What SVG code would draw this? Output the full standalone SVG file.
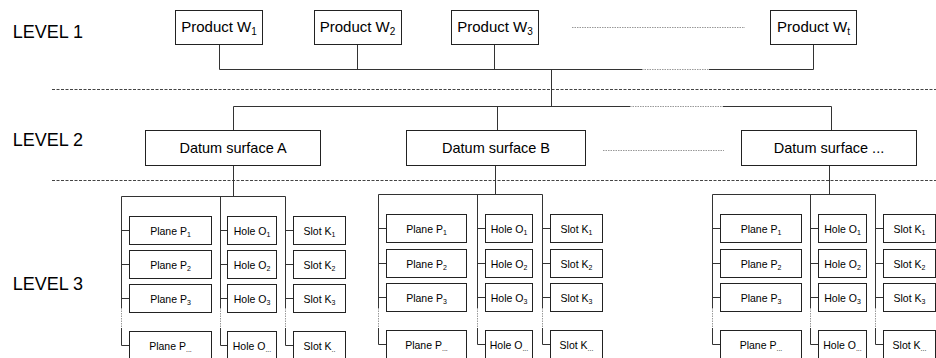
<svg xmlns="http://www.w3.org/2000/svg" width="936" height="358" viewBox="0 0 936 358">
<style>
text{font-family:"Liberation Sans",Arial,sans-serif;fill:#000}
.lvl{font-size:18px}
.l1{font-size:15px;text-anchor:middle}
.l2{font-size:14.5px;text-anchor:middle}
.l3{font-size:10.5px;text-anchor:middle}
.sub1{font-size:10px}
.sub3{font-size:7px}
rect{fill:#fff;stroke:#222;stroke-width:1}
.ln{fill:none;stroke:#333;stroke-width:1}
.dot{fill:none;stroke:#999;stroke-width:1;stroke-dasharray:1.5,1}
.sep{fill:none;stroke:#444;stroke-width:1;stroke-dasharray:3,1.5}
</style>
<rect x="0" y="0" width="936" height="358" style="stroke:none;fill:#fff"/>
<g id="levels">
<text class="lvl" x="12.7" y="38">LEVEL 1</text>
<text class="lvl" x="12.7" y="146">LEVEL 2</text>
<text class="lvl" x="12.7" y="290">LEVEL 3</text>
<path class="sep" d="M52,89.5H936M52,180.5H936"/>
</g>
<g id="connectors">
<path class="ln" d="M219.5,44.5V69.5M357.5,44.5V69.5M494.5,44.5V69.5M813.5,44.5V69.5M219.5,69.5H642M709,69.5H813.5M551.5,69.5V106.5"/>
<path class="dot" d="M642,69.5H709M572,27.5H745"/>
<path class="ln" d="M233.5,106.5H630M723,106.5H831.5M233.5,106.5V130.5M497.5,106.5V130.5M831.5,106.5V130.5"/>
<path class="dot" d="M630,106.5H723M603,150.5H724"/>
<path class="ln" d="M233.5,165.5V196.5M495.5,165.5V194.5M829.5,165.5V194.5"/>
<!-- column A -->
<path class="ln" d="M121.5,196.5H285.5M121.5,196.5V308M121.5,328V345.5H129.5M121.5,230.5H129.5M121.5,264.5H129.5M121.5,298.5H129.5"/>
<path class="ln" d="M220.5,196.5V308M220.5,328V345.5H227.5M220.5,230.5H227.5M220.5,264.5H227.5M220.5,298.5H227.5"/>
<path class="ln" d="M285.5,196.5V308M285.5,328V345.5H293.5M285.5,230.5H293.5M285.5,264.5H293.5M285.5,298.5H293.5"/>
<path class="dot" d="M121.5,308V328M220.5,308V328M285.5,308V328"/>
<!-- column B -->
<path class="ln" d="M378.5,194.5H542.5M378.5,194.5V308M378.5,328V344.5H386.5M378.5,228.5H386.5M378.5,263.5H386.5M378.5,297.5H386.5"/>
<path class="ln" d="M477.5,194.5V308M477.5,328V344.5H485.5M477.5,228.5H485.5M477.5,263.5H485.5M477.5,297.5H485.5"/>
<path class="ln" d="M542.5,194.5V308M542.5,328V344.5H550.5M542.5,228.5H550.5M542.5,263.5H550.5M542.5,297.5H550.5"/>
<path class="dot" d="M378.5,308V328M477.5,308V328M542.5,308V328"/>
<!-- column C -->
<path class="ln" d="M712.5,194.5H875.5M712.5,194.5V308M712.5,328V344.5H720.5M712.5,228.5H720.5M712.5,263.5H720.5M712.5,297.5H720.5"/>
<path class="ln" d="M810.5,194.5V308M810.5,328V344.5H818.5M810.5,228.5H818.5M810.5,263.5H818.5M810.5,297.5H818.5"/>
<path class="ln" d="M875.5,194.5V308M875.5,328V344.5H883.5M875.5,228.5H883.5M875.5,263.5H883.5M875.5,297.5H883.5"/>
<path class="dot" d="M712.5,308V328M810.5,308V328M875.5,308V328"/>
</g>
<g id="productW1"><rect x="175.5" y="10.5" width="87" height="34"/><text class="l1" x="219" y="32">Product W<tspan class="sub1" dy="3">1</tspan></text></g>
<g id="productW2"><rect x="314.5" y="10.5" width="87" height="34"/><text class="l1" x="357.5" y="32">Product W<tspan class="sub1" dy="3">2</tspan></text></g>
<g id="productW3"><rect x="451.5" y="10.5" width="87" height="34"/><text class="l1" x="495" y="32">Product W<tspan class="sub1" dy="3">3</tspan></text></g>
<g id="productWt"><rect x="770.5" y="10.5" width="86" height="34"/><text class="l1" x="813.5" y="32">Product W<tspan class="sub1" dy="3">t</tspan></text></g>
<g id="datumA"><rect x="145.5" y="130.5" width="175" height="35"/><text class="l2" x="233" y="153">Datum surface A</text></g>
<g id="datumB"><rect x="406.5" y="130.5" width="179" height="35"/><text class="l2" x="496" y="153">Datum surface B</text></g>
<g id="datumN"><rect x="741.5" y="130.5" width="175" height="35"/><text class="l2" x="829" y="153">Datum surface ...</text></g>
<!-- column A nodes -->
<g id="A_P1"><rect x="129.5" y="216.5" width="82" height="28"/><text class="l3" x="170.5" y="234.5">Plane P<tspan class="sub3" dy="2">1</tspan></text></g>
<g id="A_P2"><rect x="129.5" y="250.5" width="82" height="28"/><text class="l3" x="170.5" y="268.5">Plane P<tspan class="sub3" dy="2">2</tspan></text></g>
<g id="A_P3"><rect x="129.5" y="284.5" width="82" height="28"/><text class="l3" x="170.5" y="302.5">Plane P<tspan class="sub3" dy="2">3</tspan></text></g>
<g id="A_Pn"><rect x="129.5" y="331.5" width="82" height="28"/><text class="l3" x="170.5" y="349.5">Plane P<tspan class="sub3" dy="2">...</tspan></text></g>
<g id="A_O1"><rect x="227.5" y="216.5" width="49" height="28"/><text class="l3" x="252" y="234.5">Hole O<tspan class="sub3" dy="2">1</tspan></text></g>
<g id="A_O2"><rect x="227.5" y="250.5" width="49" height="28"/><text class="l3" x="252" y="268.5">Hole O<tspan class="sub3" dy="2">2</tspan></text></g>
<g id="A_O3"><rect x="227.5" y="284.5" width="49" height="28"/><text class="l3" x="252" y="302.5">Hole O<tspan class="sub3" dy="2">3</tspan></text></g>
<g id="A_On"><rect x="227.5" y="331.5" width="49" height="28"/><text class="l3" x="252" y="349.5">Hole O<tspan class="sub3" dy="2">...</tspan></text></g>
<g id="A_K1"><rect x="293.5" y="216.5" width="52" height="28"/><text class="l3" x="319.5" y="234.5">Slot K<tspan class="sub3" dy="2">1</tspan></text></g>
<g id="A_K2"><rect x="293.5" y="250.5" width="52" height="28"/><text class="l3" x="319.5" y="268.5">Slot K<tspan class="sub3" dy="2">2</tspan></text></g>
<g id="A_K3"><rect x="293.5" y="284.5" width="52" height="28"/><text class="l3" x="319.5" y="302.5">Slot K<tspan class="sub3" dy="2">3</tspan></text></g>
<g id="A_Kn"><rect x="293.5" y="331.5" width="52" height="28"/><text class="l3" x="319.5" y="349.5">Slot K<tspan class="sub3" dy="2">..</tspan></text></g>
<!-- column B nodes -->
<g id="B_P1"><rect x="386.5" y="214.5" width="80" height="28"/><text class="l3" x="426.5" y="232.5">Plane P<tspan class="sub3" dy="2">1</tspan></text></g>
<g id="B_P2"><rect x="386.5" y="249.5" width="80" height="28"/><text class="l3" x="426.5" y="267.5">Plane P<tspan class="sub3" dy="2">2</tspan></text></g>
<g id="B_P3"><rect x="386.5" y="283.5" width="80" height="28"/><text class="l3" x="426.5" y="301.5">Plane P<tspan class="sub3" dy="2">3</tspan></text></g>
<g id="B_Pn"><rect x="386.5" y="330.5" width="80" height="29"/><text class="l3" x="426.5" y="348.5">Plane P<tspan class="sub3" dy="2">...</tspan></text></g>
<g id="B_O1"><rect x="485.5" y="214.5" width="47" height="28"/><text class="l3" x="509" y="232.5">Hole O<tspan class="sub3" dy="2">1</tspan></text></g>
<g id="B_O2"><rect x="485.5" y="249.5" width="47" height="28"/><text class="l3" x="509" y="267.5">Hole O<tspan class="sub3" dy="2">2</tspan></text></g>
<g id="B_O3"><rect x="485.5" y="283.5" width="47" height="28"/><text class="l3" x="509" y="301.5">Hole O<tspan class="sub3" dy="2">3</tspan></text></g>
<g id="B_On"><rect x="485.5" y="330.5" width="47" height="29"/><text class="l3" x="509" y="348.5">Hole O<tspan class="sub3" dy="2">...</tspan></text></g>
<g id="B_K1"><rect x="550.5" y="214.5" width="52" height="28"/><text class="l3" x="576.5" y="232.5">Slot K<tspan class="sub3" dy="2">1</tspan></text></g>
<g id="B_K2"><rect x="550.5" y="249.5" width="52" height="28"/><text class="l3" x="576.5" y="267.5">Slot K<tspan class="sub3" dy="2">2</tspan></text></g>
<g id="B_K3"><rect x="550.5" y="283.5" width="52" height="28"/><text class="l3" x="576.5" y="301.5">Slot K<tspan class="sub3" dy="2">3</tspan></text></g>
<g id="B_Kn"><rect x="550.5" y="330.5" width="52" height="29"/><text class="l3" x="576.5" y="348.5">Slot K<tspan class="sub3" dy="2">...</tspan></text></g>
<!-- column C nodes -->
<g id="C_P1"><rect x="720.5" y="214.5" width="81" height="28"/><text class="l3" x="761" y="232.5">Plane P<tspan class="sub3" dy="2">1</tspan></text></g>
<g id="C_P2"><rect x="720.5" y="249.5" width="81" height="28"/><text class="l3" x="761" y="267.5">Plane P<tspan class="sub3" dy="2">2</tspan></text></g>
<g id="C_P3"><rect x="720.5" y="283.5" width="81" height="28"/><text class="l3" x="761" y="301.5">Plane P<tspan class="sub3" dy="2">3</tspan></text></g>
<g id="C_Pn"><rect x="720.5" y="330.5" width="81" height="29"/><text class="l3" x="761" y="348.5">Plane P<tspan class="sub3" dy="2">...</tspan></text></g>
<g id="C_O1"><rect x="818.5" y="214.5" width="48" height="28"/><text class="l3" x="842.5" y="232.5">Hole O<tspan class="sub3" dy="2">1</tspan></text></g>
<g id="C_O2"><rect x="818.5" y="249.5" width="48" height="28"/><text class="l3" x="842.5" y="267.5">Hole O<tspan class="sub3" dy="2">2</tspan></text></g>
<g id="C_O3"><rect x="818.5" y="283.5" width="48" height="28"/><text class="l3" x="842.5" y="301.5">Hole O<tspan class="sub3" dy="2">3</tspan></text></g>
<g id="C_On"><rect x="818.5" y="330.5" width="48" height="29"/><text class="l3" x="842.5" y="348.5">Hole O<tspan class="sub3" dy="2">...</tspan></text></g>
<g id="C_K1"><rect x="883.5" y="214.5" width="52" height="28"/><text class="l3" x="909.5" y="232.5">Slot K<tspan class="sub3" dy="2">1</tspan></text></g>
<g id="C_K2"><rect x="883.5" y="249.5" width="52" height="28"/><text class="l3" x="909.5" y="267.5">Slot K<tspan class="sub3" dy="2">2</tspan></text></g>
<g id="C_K3"><rect x="883.5" y="283.5" width="52" height="28"/><text class="l3" x="909.5" y="301.5">Slot K<tspan class="sub3" dy="2">3</tspan></text></g>
<g id="C_Kn"><rect x="883.5" y="330.5" width="52" height="29"/><text class="l3" x="909.5" y="348.5">Slot K<tspan class="sub3" dy="2">...</tspan></text></g>
</svg>
